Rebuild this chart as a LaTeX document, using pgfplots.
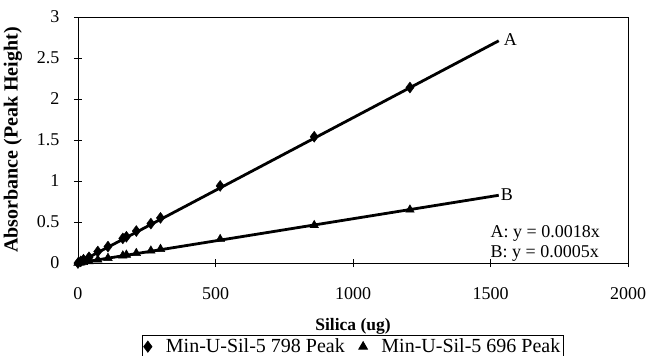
\documentclass[border=0pt]{standalone}
\usepackage{fontspec}
\setmainfont{Liberation Serif}
\usepackage{pgfplots}
\pgfplotsset{compat=1.18}
\begin{document}
\begin{tikzpicture}
\begin{axis}[
  scale only axis, width=550bp, height=246bp,
  at={(0,0)}, anchor=south west,
  xmin=0, xmax=2000, ymin=0, ymax=3,
  xtick={0,500,1000,1500,2000},
  ytick={0,0.5,1,1.5,2,2.5,3},
  tick pos=left, tick align=center, major tick length=8bp,
  axis line style={line width=0.8bp},
  tick style={line width=0.8bp, black},
  /pgf/number format/assume math mode=true,
  /pgf/number format/1000 sep={},
  ticklabel style={font=\fontsize{18bp}{20bp}\selectfont},
  yticklabel style={xshift=-11bp},
  xticklabel style={yshift=-17bp},
  xlabel={\textbf{Silica (ug)}},
  ylabel={\textbf{Absorbance (Peak Height)}},
  xlabel style={font=\fontsize{17.5bp}{20bp}\selectfont, yshift=-12bp},
  ylabel style={font=\fontsize{20bp}{22bp}\selectfont, yshift=8bp},
  legend columns=2,
  legend style={at={(0.116,-0.293)}, anchor=north west,
    font=\fontsize{20bp}{22bp}\selectfont, draw=black, line width=0.8bp,
    inner sep=1.5bp, column sep=12bp},
  legend image code/.code={\draw[#1] plot coordinates {(0.15cm,0cm)};},
]
\addplot[only marks, mark=diamond*, mark size=5.5bp, black] coordinates {
(0,0) (10,0.02) (20,0.04) (40,0.07) (72,0.14) (109,0.2) (163,0.3) (176,0.32) (212,0.39) (265,0.48) (300,0.55) (517,0.94) (859,1.54) (1207,2.14)};
\addlegendentry{Min-U-Sil-5 798 Peak}
\addplot[only marks, mark=triangle*, mark size=5bp, black] coordinates {
(0,0) (10,0.005) (20,0.01) (40,0.02) (72,0.04) (109,0.06) (163,0.09) (176,0.1) (212,0.12) (265,0.15) (300,0.17) (517,0.29) (859,0.46) (1207,0.65)};
\addlegendentry{Min-U-Sil-5 696 Peak}
\addplot[black, line width=2.8bp, forget plot] coordinates {(0,0) (1530,2.71)};
\addplot[black, line width=2.8bp, forget plot] coordinates {(0,0) (1530,0.826)};
\node[font=\fontsize{18bp}{20bp}\selectfont] at (axis cs:1572,2.72) {A};
\node[font=\fontsize{18bp}{20bp}\selectfont] at (axis cs:1560,0.83) {B};
\node[anchor=west, inner sep=0pt, font=\fontsize{18bp}{20bp}\selectfont] at (axis cs:1500,0.366) {A: y = 0.0018x};
\node[anchor=west, inner sep=0pt, font=\fontsize{18bp}{20bp}\selectfont] at (axis cs:1500,0.12) {B: y = 0.0005x};
\end{axis}
\pgfresetboundingbox
\path (-78bp,-93bp) rectangle (568bp,263bp);
\end{tikzpicture}
\end{document}
